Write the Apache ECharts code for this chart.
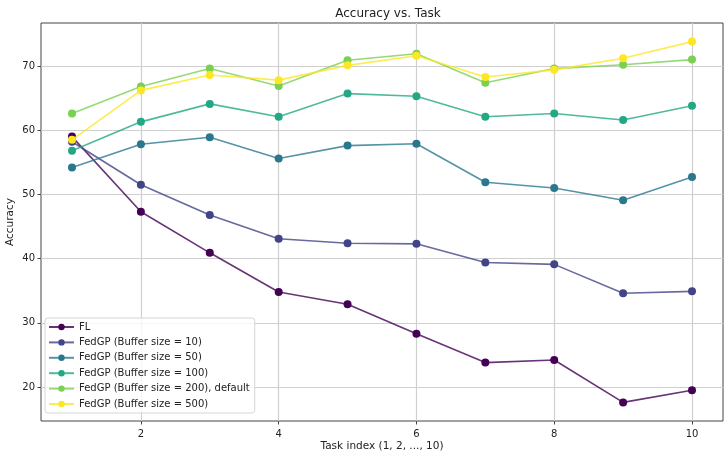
<!DOCTYPE html>
<html>
<head>
<meta charset="utf-8">
<script src="https://cdn.jsdelivr.net/npm/echarts@6/dist/echarts.min.js"></script>
<style>html,body{margin:0;padding:0;background:#fff;}#c{width:725px;height:451px;}</style>
</head>
<body>
<div id="c"></div>
<script>
const tasks = [1, 2, 3, 4, 5, 6, 7, 8, 9, 10];
const xTicks = [2, 4, 6, 8, 10];
const yTicks = [20, 30, 40, 50, 60, 70];
const seriesNames = [
  'FL',
  'FedGP (Buffer size = 10)',
  'FedGP (Buffer size = 50)',
  'FedGP (Buffer size = 100)',
  'FedGP (Buffer size = 200), default',
  'FedGP (Buffer size = 500)'
];
const colors = ['#440154', '#414487', '#2a788e', '#22a884', '#7ad151', '#fde725'];
const fl      = [59.0, 47.3, 40.9, 34.8, 32.9, 28.3, 23.8, 24.2, 17.6, 19.5];
const buf10   = [58.2, 51.5, 46.8, 43.1, 42.4, 42.3, 39.4, 39.1, 34.6, 34.9];
const buf50   = [54.2, 57.8, 58.9, 55.6, 57.6, 57.9, 51.9, 51.0, 49.1, 52.7];
const buf100  = [56.8, 61.3, 64.1, 62.1, 65.7, 65.3, 62.1, 62.6, 61.6, 63.8];
const buf200  = [62.6, 66.8, 69.6, 66.9, 70.9, 71.9, 67.4, 69.6, 70.2, 71.0];
const buf500  = [58.5, 66.2, 68.6, 67.8, 70.1, 71.6, 68.3, 69.4, 71.2, 73.8];
const allData = [fl, buf10, buf50, buf100, buf200, buf500];

const font = 'DejaVu Sans';
const chart = echarts.init(document.getElementById('c'), null, {renderer: 'canvas'});
chart.setOption({
  animation: false,
  backgroundColor: '#fff',
  title: {
    text: 'Accuracy vs. Task',
    left: 383, top: 3, textAlign: 'center',
    textStyle: {fontFamily: font, fontSize: 12, fontWeight: 'normal', color: '#222'}
  },
  grid: {
    left: 41, right: 2, top: 23, bottom: 30,
    outerBoundsMode: 'none', containLabel: false,
    show: true, borderColor: '#444', borderWidth: 1, backgroundColor: 'transparent'
  },
  legend: {
    orient: 'vertical',
    left: 45, top: 318,
    itemWidth: 25, itemHeight: 8, itemGap: 5.4,
    padding: [4, 5, 4, 3],
    backgroundColor: 'rgba(255,255,255,0.8)',
    borderColor: '#d6d6d6', borderWidth: 1, borderRadius: 3,
    textStyle: {fontFamily: font, fontSize: 10, color: '#222'},
    data: seriesNames
  },
  xAxis: {
    type: 'value', min: 0.55, max: 10.45,
    name: 'Task index (1, 2, ..., 10)', nameLocation: 'middle', nameGap: 20,
    nameMoveOverlap: false,
    nameTextStyle: {fontFamily: font, fontSize: 10.5, color: '#222'},
    axisLine: {show: false},
    axisTick: {show: true, inside: false, length: 3.5, customValues: xTicks, lineStyle: {color: '#444'}},
    axisLabel: {customValues: xTicks, fontFamily: font, fontSize: 10, color: '#222', margin: 8},
    splitLine: {show: true, lineStyle: {color: '#cfcfcf', width: 1.2}}
  },
  yAxis: {
    type: 'value', min: 14.7, max: 76.7,
    name: 'Accuracy', nameLocation: 'middle', nameGap: 25,
    nameMoveOverlap: false,
    nameTextStyle: {fontFamily: font, fontSize: 10.5, color: '#222'},
    axisLine: {show: false},
    axisTick: {show: true, inside: false, length: 3.5, customValues: yTicks, lineStyle: {color: '#444'}},
    axisLabel: {customValues: yTicks, fontFamily: font, fontSize: 10, color: '#222', margin: 6},
    splitLine: {show: true, lineStyle: {color: '#cfcfcf', width: 1.2}}
  },
  series: seriesNames.map((n, i) => ({
    name: n,
    type: 'line',
    data: tasks.map((t, j) => [t, allData[i][j]]),
    symbol: 'circle', symbolSize: 8,
    itemStyle: {color: colors[i], opacity: 1},
    lineStyle: {color: colors[i], width: 1.6, opacity: 0.8},
    emphasis: {disabled: true},
    z: 2 + i
  }))
});
</script>
</body>
</html>
